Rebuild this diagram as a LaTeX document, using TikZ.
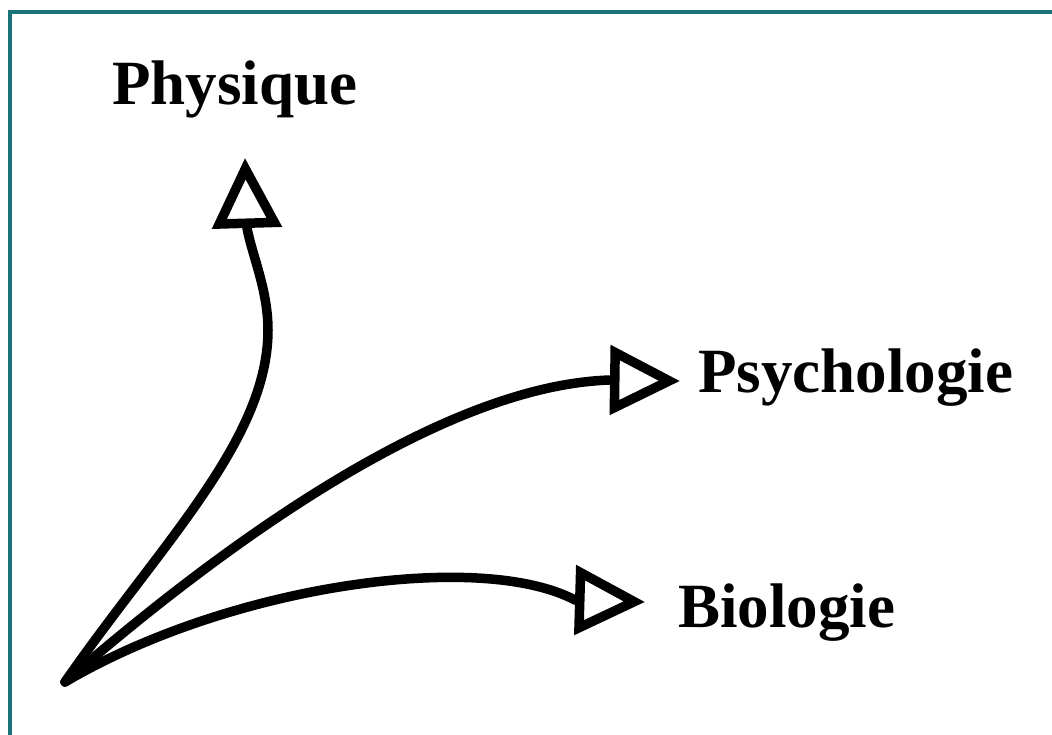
\documentclass[tikz,border=0pt]{standalone}
\usepackage{fontspec}
\setmainfont{Liberation Serif}
\usetikzlibrary{arrows.meta}
\definecolor{frameteal}{RGB}{27,115,119}
\tikzset{
  lbl/.style={anchor=base west, inner sep=0pt, font=\fontsize{63}{70}\selectfont\bfseries},
  branch/.style={line width=9.5pt, line cap=round, line join=round,
    -{Triangle[open,length=70pt,width=68pt,line width=9.5pt]}},
  frameline/.style={draw=frameteal, line width=4pt}
}
\begin{document}
\begin{tikzpicture}[x=1pt,y=-1pt]
\useasboundingbox (0,0) rectangle (1052,734);
\draw[frameline] (9.5,740) -- (9.5,12) -- (1060,12);
% labels
\node[lbl] (phys) at (112,104) {Physique};
\node[lbl] (psy) at (698,392) {Psychologie};
\node[lbl] (bio) at (678,627) {Biologie};
% origin and arrow points
\coordinate (O) at (65,682);
\coordinate (physbend) at (268,330);
\coordinate (physbase) at (247,228);
\coordinate (phystip) at (245,158);
\coordinate (psybase) at (610,380);
\coordinate (psytip) at (680,381);
\coordinate (biobase) at (575,600);
\coordinate (biotip) at (645,602);
% connectors
\draw[branch] (O) .. controls (160,545) and (268,440) .. (physbend)
  .. controls (268,290) and (252,255) .. (physbase) -- (phystip);
\draw[branch] (O) .. controls (240,530) and (450,385) .. (psybase) -- (psytip);
\draw[branch] (O) .. controls (230,585) and (480,550) .. (biobase) -- (biotip);
\end{tikzpicture}
\end{document}
